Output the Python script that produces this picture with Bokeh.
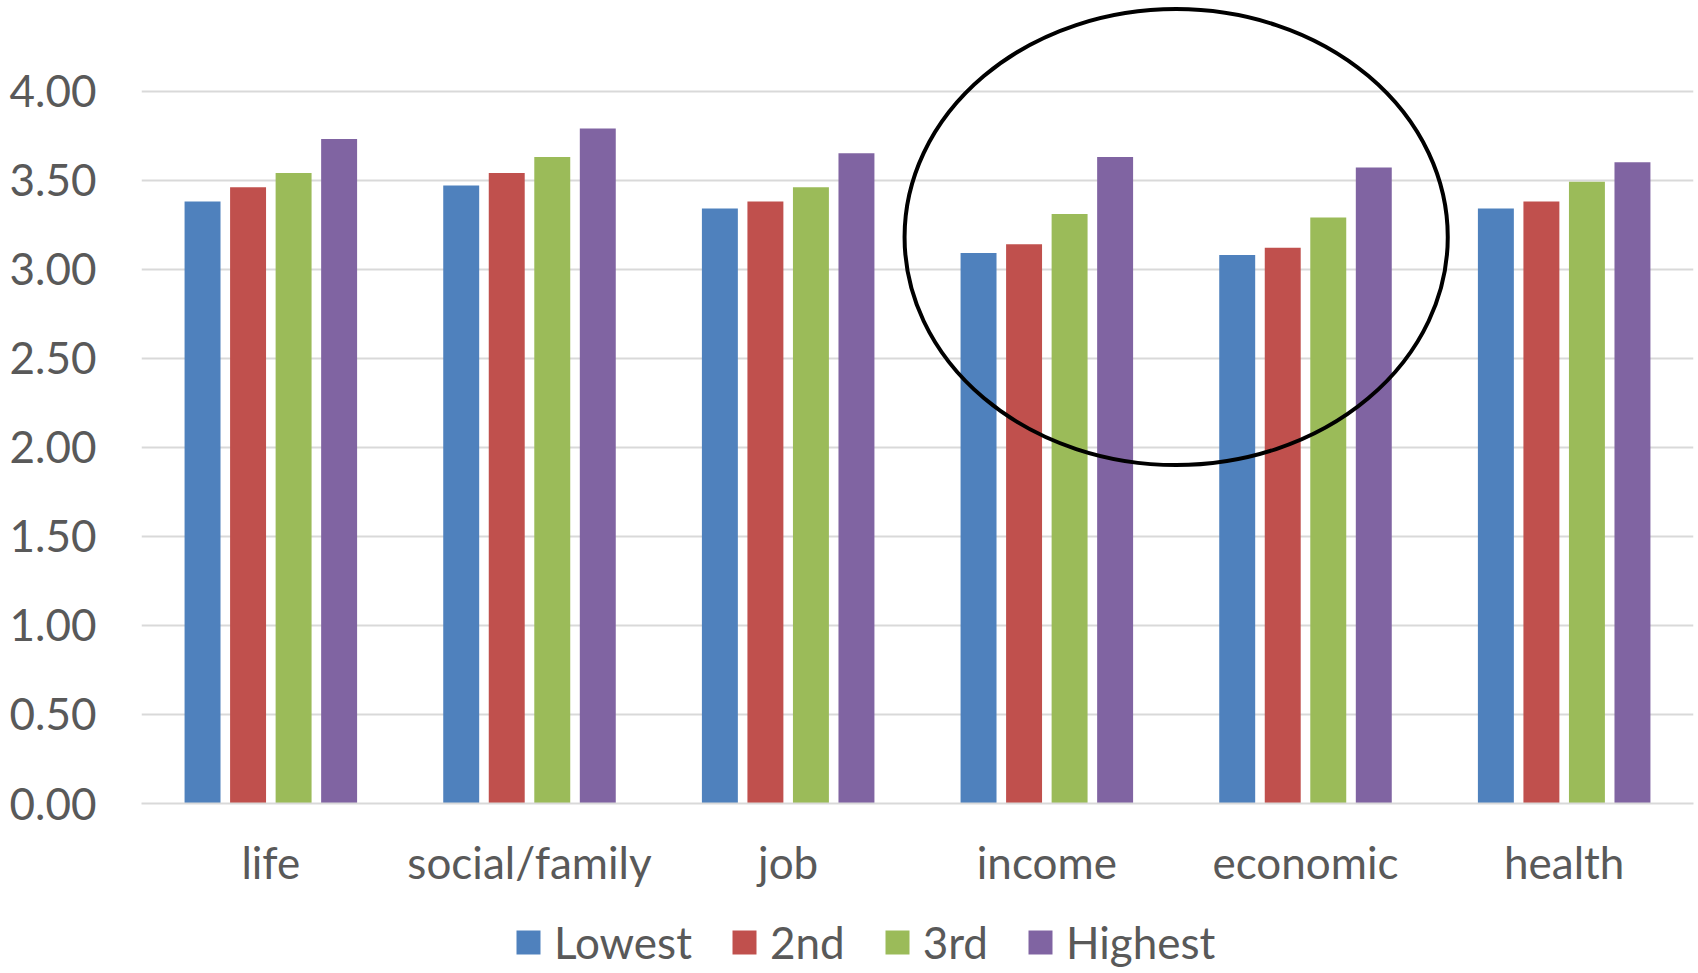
from bokeh.plotting import figure
from bokeh.layouts import column
from bokeh.models import (ColumnDataSource, FactorRange, Range1d, FixedTicker,
                          NumeralTickFormatter, Legend, LegendItem)
from bokeh.transform import dodge
from bokeh.embed import file_html
from bokeh.resources import INLINE

categories = ["life", "social/family", "job", "income", "economic", "health"]
series_names = ["Lowest", "2nd", "3rd", "Highest"]
lowest = [3.38, 3.47, 3.34, 3.09, 3.08, 3.34]
second = [3.46, 3.54, 3.38, 3.14, 3.12, 3.38]
third = [3.54, 3.63, 3.46, 3.31, 3.29, 3.49]
highest = [3.73, 3.79, 3.65, 3.63, 3.57, 3.60]
y_ticks = [0.0, 0.5, 1.0, 1.5, 2.0, 2.5, 3.0, 3.5, 4.0]

colors = ["#4f81bd", "#c0504d", "#9bbb59", "#8064a2"]
offsets = [-0.264, -0.088, 0.088, 0.264]
bar_w = 0.139
FONT = "Lato"
TXT = "#595959"
GRID = "#d9d9d9"

source = ColumnDataSource(data=dict(cat=categories, Lowest=lowest, s2=second,
                                    s3=third, Highest=highest))
cols = ["Lowest", "s2", "s3", "Highest"]

p = figure(width=1698, height=893, x_range=FactorRange(*categories, range_padding=0),
           y_range=Range1d(0, 4.48), output_backend="svg", toolbar_location=None,
           min_border_left=141, min_border_right=5, min_border_top=5,
           min_border_bottom=90)
p.outline_line_color = None
p.background_fill_color = "white"
p.border_fill_color = "white"

for col, off, c in zip(cols, offsets, colors):
    p.vbar(x=dodge("cat", off, range=p.x_range), top=col, width=bar_w,
           bottom=0, source=source, fill_color=c, line_color=None)

# highlight ellipse around income / economic
p.ellipse(x=[("income", 0.5)], y=[3.18], width=2.10, height=2.56,
          fill_color=None, line_color="black", line_width=4)

p.yaxis.ticker = FixedTicker(ticks=y_ticks)
p.yaxis.formatter = NumeralTickFormatter(format="0.00")
p.yaxis.axis_line_color = None
p.yaxis.major_tick_line_color = None
p.yaxis.minor_tick_line_color = None
p.yaxis.major_tick_out = 0
p.yaxis.major_label_standoff = 45
p.yaxis.major_label_text_font = FONT
p.yaxis.major_label_text_font_size = "44px"
p.yaxis.major_label_text_color = TXT

p.xaxis.axis_line_color = GRID
p.xaxis.axis_line_width = 2
p.xaxis.major_tick_line_color = None
p.xaxis.minor_tick_line_color = None
p.xaxis.major_tick_out = 0
p.xaxis.major_label_standoff = 32
p.xaxis.major_label_text_font = FONT
p.xaxis.major_label_text_font_size = "44px"
p.xaxis.major_label_text_color = TXT

p.xgrid.grid_line_color = None
p.ygrid.grid_line_color = GRID
p.ygrid.grid_line_width = 2

# legend strip below the chart (its frame is aligned with the chart frame)
lg = figure(width=1698, height=80, x_range=Range1d(0, 1), y_range=Range1d(0, 1),
            output_backend="svg", toolbar_location=None, min_border=0)
lg.axis.visible = False
lg.grid.visible = False
lg.outline_line_color = None
lg_renderers = [lg.vbar(x=[0.5], top=[0.0], bottom=0.0, width=0.0,
                        fill_color=c, line_color=None)
                for c in colors]
legend = Legend(items=[LegendItem(label=n, renderers=[r]) for n, r in zip(series_names, lg_renderers)],
                orientation="horizontal", location=(372, 5),
                label_text_font=FONT, label_text_font_size="44px",
                label_text_color=TXT, glyph_width=30, glyph_height=30,
                spacing=37, label_standoff=11, border_line_color=None,
                background_fill_alpha=0, padding=0, margin=0)
lg.add_layout(legend, "center")

layout = column(p, lg, spacing=0)
open("out.html", "w").write(file_html(layout, INLINE))
